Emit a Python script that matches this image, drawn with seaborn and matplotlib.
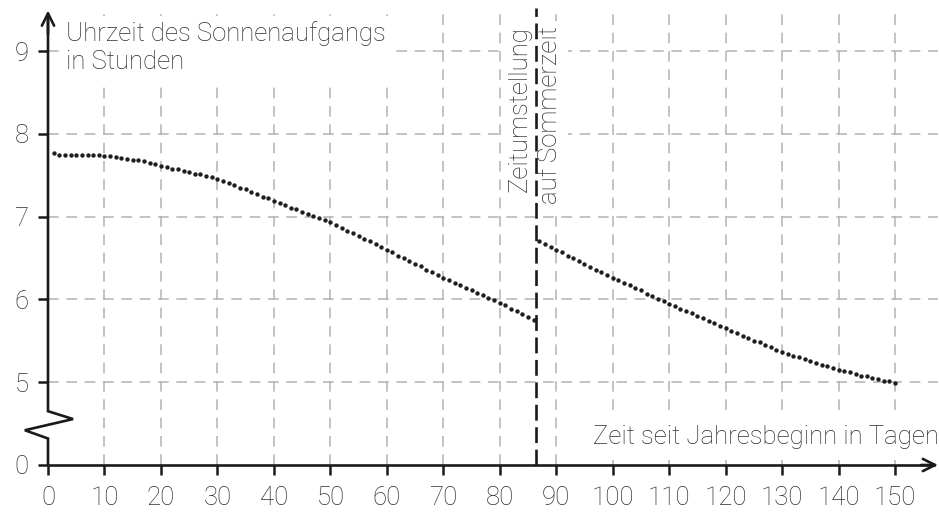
import matplotlib
matplotlib.use("Agg")
import matplotlib.pyplot as plt
import seaborn as sns
import pandas as pd

# ---------------- data ----------------
days_winter = list(range(1, 87))
sunrise_winter = [
    7.77, 7.75, 7.75, 7.75, 7.75, 7.75, 7.75, 7.74, 7.74, 7.73,
    7.73, 7.72, 7.71, 7.70, 7.69, 7.68, 7.67, 7.65, 7.63, 7.61,
    7.60, 7.58, 7.57, 7.55, 7.54, 7.52, 7.51, 7.49, 7.48, 7.46,
    7.43, 7.41, 7.38, 7.35, 7.33, 7.30, 7.27, 7.24, 7.22, 7.19,
    7.17, 7.14, 7.11, 7.09, 7.06, 7.03, 7.01, 6.98, 6.96, 6.93,
    6.90, 6.86, 6.83, 6.80, 6.77, 6.73, 6.70, 6.67, 6.63, 6.60,
    6.57, 6.53, 6.50, 6.46, 6.43, 6.40, 6.36, 6.33, 6.29, 6.26,
    6.23, 6.20, 6.17, 6.14, 6.11, 6.08, 6.05, 6.02, 5.99, 5.96,
    5.93, 5.89, 5.86, 5.82, 5.79, 5.75,
]
days_summer = list(range(87, 151))
sunrise_summer = [
    6.70, 6.67, 6.63, 6.60,
    6.57, 6.53, 6.50, 6.46, 6.43, 6.39, 6.36, 6.33, 6.29, 6.26,
    6.23, 6.20, 6.17, 6.14, 6.11, 6.07, 6.04, 6.01, 5.98, 5.95,
    5.92, 5.89, 5.86, 5.83, 5.80, 5.77, 5.74, 5.71, 5.68, 5.65,
    5.62, 5.59, 5.56, 5.53, 5.50, 5.48, 5.45, 5.42, 5.39, 5.36,
    5.34, 5.32, 5.30, 5.28, 5.26, 5.23, 5.21, 5.19, 5.17, 5.15,
    5.13, 5.12, 5.10, 5.08, 5.07, 5.05, 5.04, 5.02, 5.01, 4.99,
]
dst_day = 86.5
x_ticks = list(range(0, 151, 10))
y_ticks = [4, 5, 6, 7, 8, 9]          # position 4 is the broken-axis "0"
y_tick_labels = ["0", "5", "6", "7", "8", "9"]
y_title = "Uhrzeit des Sonnenaufgangs\nin Stunden"
x_title = "Zeit seit Jahresbeginn in Tagen"
dst_text_1 = "Zeitumstellung"
dst_text_2 = "auf Sommerzeit"

df = pd.DataFrame({
    "day": days_winter + days_summer,
    "sunrise": sunrise_winter + sunrise_summer,
})

# ---------------- style ----------------
sns.set_theme(style="white")
plt.rcParams["font.family"] = ["Roboto", "DejaVu Sans"]
txt_color = "#2e2e2e"
FS = 18.5

fig = plt.figure(figsize=(9.39, 5.13), dpi=100)
W, H = 939, 513
ax_left, ax_right = 48 / W, 938 / W
ax_bottom, ax_top = (H - 465) / H, (H - 8) / H
ax = fig.add_axes([ax_left, ax_bottom, ax_right - ax_left, ax_top - ax_bottom])

x_max = 157.6
y_top = 9.52
ax.set_xlim(0, x_max)
ax.set_ylim(4, y_top)

for s in ax.spines.values():
    s.set_visible(False)

# grid
grid_kw = dict(color="#b3b3b3", lw=1.1, linestyle=(0, (7, 5)), zorder=0.5)
for xv in x_ticks[1:]:
    ax.plot([xv, xv], [4, y_top], **grid_kw)
for yv in y_ticks[1:]:
    ax.plot([0, x_max], [yv, yv], **grid_kw)

# data dots
sns.scatterplot(data=df, x="day", y="sunrise", ax=ax, color="#1e1e1e",
                s=10, linewidth=0, zorder=4, legend=False)

# DST dashed line
ax.plot([dst_day, dst_day], [4, y_top], color="#1a1a1a", lw=1.9,
        linestyle=(0, (6, 2.5)), zorder=3)

# ticks
ax.set_xticks(x_ticks)
ax.set_xticklabels([str(v) for v in x_ticks])
ax.set_yticks(y_ticks)
ax.set_yticklabels(y_tick_labels)
ax.tick_params(axis="x", direction="out", length=7, width=1.8, color="#1a1a1a",
               pad=8, labelsize=FS, labelcolor=txt_color, bottom=True)
ax.tick_params(axis="y", direction="out", length=7, width=1.8, color="#1a1a1a",
               pad=7, labelsize=FS, labelcolor=txt_color, left=True)
for lab in ax.get_xticklabels() + ax.get_yticklabels():
    lab.set_fontweight("light")
ax.set_xlabel("")
ax.set_ylabel("")

# axes lines
axis_kw = dict(color="#1a1a1a", lw=1.9, clip_on=False, zorder=5,
               solid_capstyle="butt", solid_joinstyle="miter")
ax.plot([0, 0, -4.1, 4.43, 0, 0], [4, 4.32, 4.42, 4.555, 4.65, 9.4], **axis_kw)
ax.plot([0, x_max - 0.6], [4, 4], **axis_kw)
ax.annotate("", xy=(0, 9.49), xytext=(0, 9.2),
            arrowprops=dict(arrowstyle="->", lw=1.9, color="#1a1a1a",
                            mutation_scale=22, shrinkA=0, shrinkB=0),
            annotation_clip=False, zorder=5)
ax.annotate("", xy=(x_max, 4), xytext=(x_max - 3, 4),
            arrowprops=dict(arrowstyle="->", lw=1.9, color="#1a1a1a",
                            mutation_scale=22, shrinkA=0, shrinkB=0),
            annotation_clip=False, zorder=5)

# texts
box = dict(facecolor="white", edgecolor="none", pad=4)
ax.text(3.1, 9.04, y_title, fontsize=FS, color=txt_color, fontweight="light",
        ha="left", va="center", linespacing=1.22, bbox=box, zorder=2)
ax.text(x_max + 0.1, 4.25, x_title, fontsize=FS, color=txt_color,
        fontweight="light", ha="right", va="baseline",
        bbox=dict(facecolor="white", edgecolor="none", pad=8), zorder=2)
ax.text(83.6, 9.3, dst_text_1, fontsize=FS, color=txt_color, fontweight="light",
        rotation=90, ha="center", va="top", bbox=box, zorder=2)
ax.text(88.9, 9.3, dst_text_2, fontsize=FS, color=txt_color, fontweight="light",
        rotation=90, ha="center", va="top", bbox=box, zorder=2)

fig.savefig("out.png", dpi=100, facecolor="white")
